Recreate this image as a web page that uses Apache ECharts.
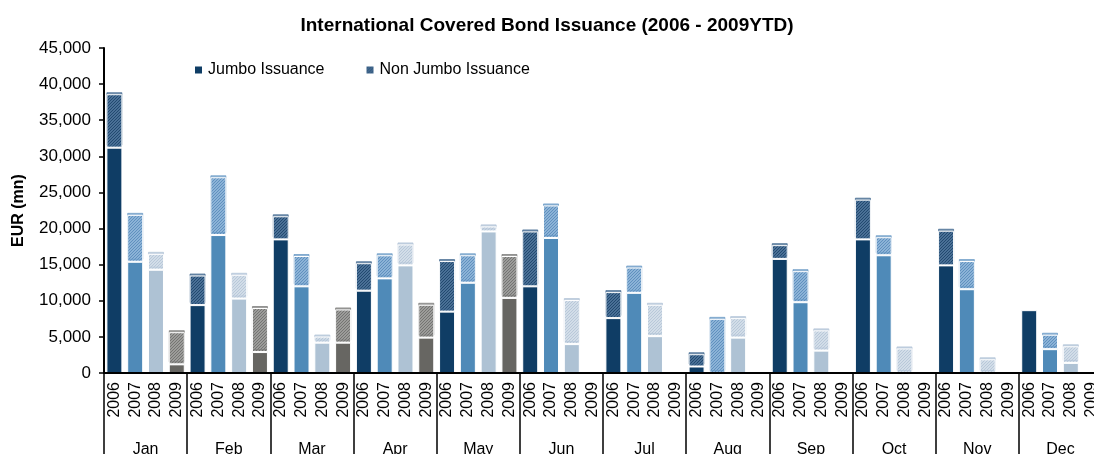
<!DOCTYPE html>
<html>
<head>
<meta charset="utf-8">
<script src="https://cdn.jsdelivr.net/npm/echarts@6/dist/echarts.min.js"></script>
<style>
html,body{margin:0;padding:0;background:#fff;}
#chart{width:1094px;height:454px;}
</style>
</head>
<body>
<div id="chart"></div>
<script>
// ---- data (EUR mn) ----
const months = ["Jan","Feb","Mar","Apr","May","Jun","Jul","Aug","Sep","Oct","Nov","Dec"];
const years = ["2006","2007","2008","2009"];
const yTicks = [0,5000,10000,15000,20000,25000,30000,35000,40000,45000];

// Jumbo issuance per month, by year ('-' = no issuance)
const jumbo2006 = [31200, 9400, 18500, 11400, 8500, 12000, 7600, 900, 15800, 18500, 14900, 8700];
const jumbo2007 = [15400, 19100, 12000, 13100, 12500, 18700, 11100, '-', 9800, 16300, 11600, 3300];
const jumbo2008 = [14300, 10300, 4200, 14900, 19600, 4000, 5100, 4900, 3100, '-', '-', 1400];
const jumbo2009 = [1200, 2900, 4200, 4900, 10400, '-', '-', '-', '-', '-', '-', '-'];

// Non jumbo issuance per month, by year
const nonJumbo2006 = [7400, 4100, 3200, 3800, 7000, 7600, 3600, 1700, 1900, 5500, 4800, '-'];
const nonJumbo2007 = [6500, 8000, 4200, 3200, 3800, 4500, 3500, 7500, 4300, 2500, 3900, 2000];
const nonJumbo2008 = [2200, 3300, 850, 2900, 700, 6100, 4350, 2700, 2800, 3400, 1900, 2300];
const nonJumbo2009 = [4450, 6100, 4600, 4550, 5800, '-', '-', '-', '-', '-', '-', '-'];

const jumboByYear = [jumbo2006, jumbo2007, jumbo2008, jumbo2009];
const nonJumboByYear = [nonJumbo2006, nonJumbo2007, nonJumbo2008, nonJumbo2009];

// ---- styles ----
const solidColors = ["#0f3d65", "#4f8ab8", "#aec2d4", "#676662"];
const hatchBase = ["#4a7096", "#8cb3d7", "#d2dde8", "#9c9c9a"];
const hatchLine = ["#22496f", "#6090be", "#b8c8d9", "#747472"];

function makeHatch(base, line) {
  const c = document.createElement('canvas');
  c.width = 3; c.height = 3;
  const ctx = c.getContext('2d');
  ctx.fillStyle = base; ctx.fillRect(0,0,3,3);
  ctx.fillStyle = line;
  for (let y = 0; y < 3; y++) for (let x = 0; x < 3; x++) {
    if (((x + y) % 3) === 0) ctx.fillRect(x, y, 1, 1);
  }
  return {image: c, repeat: 'repeat'};
}
const hatchColors = hatchBase.map((b, i) => makeHatch(b, hatchLine[i]));
const shadowColors = ["rgba(60,100,140,0.7)", "rgba(100,150,195,0.7)", "rgba(180,198,216,0.8)", "rgba(120,120,118,0.7)"];

const FONT = "'Liberation Sans', Arial, sans-serif";

const catLabels = [];
const jumboData = [];
const nonJumboData = [];
months.forEach((m, mi) => {
  years.forEach((y, yi) => {
    catLabels.push(y);
    jumboData.push({value: jumboByYear[yi][mi], itemStyle: {color: solidColors[yi]}});
    nonJumboData.push({value: nonJumboByYear[yi][mi], itemStyle: {color: hatchColors[yi], shadowColor: shadowColors[yi]}});
  });
});

const chart = echarts.init(document.getElementById('chart'), null, {renderer: 'canvas'});
chart.setOption({
  animation: false,
  backgroundColor: '#fff',
  textStyle: {fontFamily: FONT, color: '#000'},
  title: {
    text: 'International Covered Bond Issuance (2006 - 2009YTD)',
    left: 'center',
    top: 11,
    textStyle: {fontFamily: FONT, fontSize: 19, fontWeight: 'bold', color: '#000'}
  },
  legend: {
    left: 188,
    top: 57,
    itemWidth: 9,
    itemHeight: 9,
    itemGap: 40,
    icon: 'rect',
    textStyle: {fontFamily: FONT, fontSize: 16, color: '#000', padding: [0,0,0,0]},
    data: ['Jumbo Issuance', 'Non Jumbo Issuance']
  },
  grid: {left: 104, top: 48, width: 998, height: 325, containLabel: false, outerBoundsMode: 'none'},
  xAxis: [
    {
      type: 'category',
      data: catLabels,
      position: 'bottom',
      z: 5,
      axisLine: {show: true, lineStyle: {color: '#000', width: 2}},
      axisTick: {show: false},
      axisLabel: {rotate: 90, interval: 0, margin: 9, fontSize: 16, fontFamily: FONT, color: '#000'},
      splitLine: {show: false}
    },
    {
      type: 'category',
      data: months,
      position: 'bottom',
      z: 5,
      axisLine: {show: false},
      axisTick: {show: true, interval: 0, length: 81, lineStyle: {color: '#000', width: 1.5}},
      axisLabel: {interval: 0, margin: 69, fontSize: 16, fontFamily: FONT, color: '#000'},
      splitLine: {show: false}
    }
  ],
  yAxis: {
    type: 'value',
    min: yTicks[0],
    max: yTicks[yTicks.length - 1],
    interval: 5000,
    z: 5,
    name: 'EUR (mn)',
    nameLocation: 'middle',
    nameRotate: 90,
    nameGap: 77,
    nameTextStyle: {fontFamily: FONT, fontSize: 16, fontWeight: 'bold', color: '#000'},
    axisLine: {show: true, lineStyle: {color: '#000', width: 2}},
    axisTick: {show: true, length: 5, lineStyle: {color: '#000', width: 1.5}},
    axisLabel: {
      margin: 13, fontSize: 17, fontFamily: FONT, color: '#000',
      formatter: v => String(v).replace(/\B(?=(\d{3})+(?!\d))/g, ',')
    },
    splitLine: {show: false}
  },
  series: [
    {
      name: 'Jumbo Issuance',
      type: 'bar',
      stack: 'total',
      xAxisIndex: 0,
      barWidth: 16,
      itemStyle: {color: solidColors[0], borderColor: '#fff', borderWidth: 1},
      data: jumboData
    },
    {
      name: 'Non Jumbo Issuance',
      type: 'bar',
      stack: 'total',
      xAxisIndex: 0,
      barWidth: 16,
      itemStyle: {color: hatchColors[0], borderColor: '#fff', borderWidth: 1, shadowBlur: 0, shadowOffsetX: 0, shadowOffsetY: -2, shadowColor: shadowColors[0]},
      data: nonJumboData
    }
  ]
});
</script>
</body>
</html>
